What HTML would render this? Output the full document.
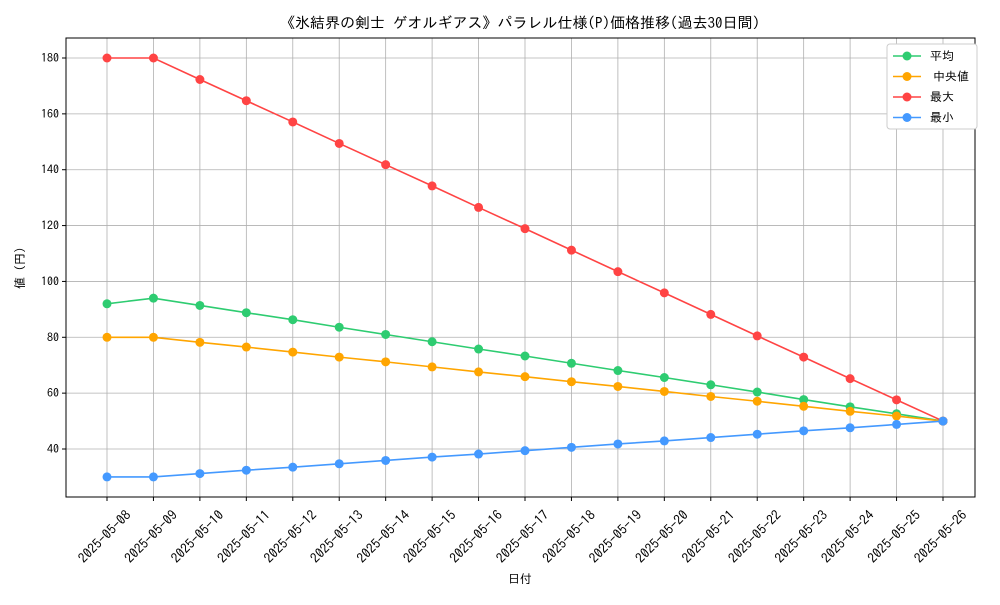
<!DOCTYPE html>
<html><head><meta charset="utf-8"><style>
body{margin:0;background:#fff;}
svg text{font-family:"IPAGothic","Noto Sans CJK JP",sans-serif;fill:#000;}
</style></head><body>
<svg id="c" width="1000" height="600" xmlns="http://www.w3.org/2000/svg">
<rect width="1000" height="600" fill="#fff"/>
<text x="520" y="28" font-size="15" text-anchor="middle">《氷結界の剣士 ゲオルギアス》パラレル仕様(P)価格推移(過去30日間)</text>
<g id="grid"></g><g id="axes"></g><g id="series"></g>
<text x="520" y="583" font-size="12" text-anchor="middle">日付</text>
<text x="24" y="268" font-size="12" text-anchor="middle" transform="rotate(-90 24 268)">値 (円)</text>
<g id="legend"></g>
</svg>
<script>
const categories=["2025-05-08","2025-05-09","2025-05-10","2025-05-11","2025-05-12","2025-05-13","2025-05-14","2025-05-15","2025-05-16","2025-05-17","2025-05-18","2025-05-19","2025-05-20","2025-05-21","2025-05-22","2025-05-23","2025-05-24","2025-05-25","2025-05-26"];
const avgValues=[92,94,91.4,88.8,86.3,83.6,81,78.4,75.8,73.3,70.7,68.1,65.6,63,60.4,57.7,55.1,52.6,50];
const medianValues=[80,80,78.2,76.5,74.7,72.9,71.2,69.4,67.6,65.9,64.1,62.4,60.6,58.8,57.1,55.3,53.5,51.8,50];
const maxValues=[180,180,172.3,164.7,157.1,149.4,141.8,134.2,126.5,118.9,111.2,103.5,95.9,88.2,80.5,72.9,65.2,57.6,50];
const minValues=[30,30,31.2,32.4,33.5,34.7,35.9,37.1,38.2,39.4,40.6,41.8,42.9,44.1,45.3,46.5,47.6,48.8,50];
const yTicks=[40,60,80,100,120,140,160,180];
const seriesNames=["平均","中央値","最大","最小"];
const NS="http://www.w3.org/2000/svg";
const L=66,R=975,T=38,B=497;
const x=i=>107+i*(943-107)/(categories.length-1);
const y=v=>449-(v-40)*(391/140);
function mk(tag,attrs,parent){const e=document.createElementNS(NS,tag);for(const k in attrs)e.setAttribute(k,attrs[k]);parent.appendChild(e);return e;}
const grid=document.getElementById('grid'),axes=document.getElementById('axes'),ser=document.getElementById('series'),leg=document.getElementById('legend');
categories.forEach((c,i)=>{
 const g=mk('line',{x1:x(i),x2:x(i),y1:T,y2:B,stroke:'#b0b0b0','stroke-width':0.8},grid);
 
 mk('line',{x1:x(i),x2:x(i),y1:B,y2:B+4,stroke:'#000'},axes);
 const cx=x(i)-2,cy=537;
 const t=mk('text',{x:cx,y:cy+4,'font-size':13.5,'text-anchor':'middle',transform:`rotate(-45 ${cx} ${cy})`},axes);
 t.textContent=c;
});
yTicks.forEach(v=>{
 const g=mk('line',{x1:L,x2:R,y1:y(v),y2:y(v),stroke:'#b0b0b0','stroke-width':0.8},grid);
 
 mk('line',{x1:L-4,x2:L,y1:y(v),y2:y(v),stroke:'#000'},axes);
 const t=mk('text',{x:L-7,y:y(v)+4,'font-size':12,'text-anchor':'end'},axes);
 t.textContent=v;
});
const fr=mk('rect',{x:L,y:T,width:R-L,height:B-T,fill:'none',stroke:'#000','stroke-width':1},axes);

const all=[[avgValues,'#2ecc71','avg'],[medianValues,'#ffa500','median'],[maxValues,'#ff4444','max'],[minValues,'#4499ff','min']];
all.forEach(([vals,col,nm])=>{
 const p=mk('polyline',{points:vals.map((v,i)=>x(i)+','+y(v)).join(' '),fill:'none',stroke:col,'stroke-width':1.6},ser);
 
 vals.forEach((v,i)=>{const c=mk('circle',{cx:x(i),cy:y(v),r:4.5,fill:col},ser);
  });
});
const lb=mk('rect',{x:887,y:44,width:90,height:85,fill:'#fff',stroke:'#ccc',rx:3},leg);

all.forEach(([v,col,nm],k)=>{
 const yy=56+k*20.5;
 const g=mk('g',{},leg);
 mk('line',{x1:893,x2:921,y1:yy,y2:yy,stroke:col,'stroke-width':1.6},g);
 mk('circle',{cx:907,cy:yy,r:4.5,fill:col},g);
 const t=mk('text',{x:(k==1?933:930),y:yy+4,'font-size':12},g);t.textContent=seriesNames[k];
});
</script>
</body></html>
